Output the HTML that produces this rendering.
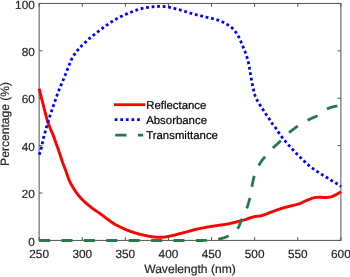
<!DOCTYPE html>
<html><head><meta charset="utf-8"><title>Reflectance, Absorbance, Transmittance</title>
<style>
html,body{margin:0;padding:0;background:#fff;}
body{width:350px;height:277px;overflow:hidden;}
svg{display:block;}
text{font-family:"Liberation Sans", Arial, Helvetica, sans-serif;fill:#262626;stroke:#262626;stroke-width:0.2px;text-rendering:geometricPrecision;}
.tk{font-size:11.8px;}
.lb{font-size:12.1px;}
.lg{font-size:11.4px;fill:#000;stroke:#000;stroke-width:0.2px;}
</style></head><body>
<svg width="350" height="277" viewBox="0 0 350 277">
<rect x="0" y="0" width="350" height="277" fill="#fff"/>
<rect x="39.12" y="3.45" width="301.76" height="236.95000000000002" fill="none" stroke="#525252" stroke-width="1"/>
<path d="M39.12 240.4 v-3.3 M39.12 3.45 v3.3 M82.23 240.4 v-3.3 M82.23 3.45 v3.3 M125.34 240.4 v-3.3 M125.34 3.45 v3.3 M168.45 240.4 v-3.3 M168.45 3.45 v3.3 M211.55 240.4 v-3.3 M211.55 3.45 v3.3 M254.66 240.4 v-3.3 M254.66 3.45 v3.3 M297.77 240.4 v-3.3 M297.77 3.45 v3.3 M340.88 240.4 v-3.3 M340.88 3.45 v3.3 M39.12 240.40 h3.3 M340.88 240.40 h-3.3 M39.12 193.01 h3.3 M340.88 193.01 h-3.3 M39.12 145.62 h3.3 M340.88 145.62 h-3.3 M39.12 98.23 h3.3 M340.88 98.23 h-3.3 M39.12 50.84 h3.3 M340.88 50.84 h-3.3 M39.12 3.45 h3.3 M340.88 3.45 h-3.3" fill="none" stroke="#525252" stroke-width="1"/>
<path d="M39.10 88.60 L39.60 90.62 L40.11 92.63 L40.61 94.63 L41.12 96.62 L41.62 98.59 L42.12 100.55 L42.63 102.50 L43.13 104.43 L43.64 106.36 L44.14 108.29 L44.64 110.26 L45.15 112.25 L45.65 114.22 L46.16 116.15 L46.66 118.02 L47.16 119.80 L47.67 121.47 L48.17 123.01 L48.68 124.43 L49.18 125.76 L49.68 127.03 L50.19 128.25 L50.69 129.46 L51.20 130.66 L51.70 131.81 L52.20 132.92 L52.71 134.06 L53.21 135.28 L53.72 136.62 L54.22 138.02 L54.72 139.46 L55.23 140.91 L55.73 142.33 L56.24 143.72 L56.74 145.11 L57.24 146.50 L57.75 147.91 L58.25 149.35 L58.76 150.83 L59.26 152.35 L59.76 153.88 L60.27 155.40 L60.77 156.92 L61.28 158.43 L61.78 159.95 L62.28 161.44 L62.79 162.89 L63.29 164.27 L63.80 165.58 L64.30 166.86 L64.80 168.15 L65.31 169.48 L65.81 170.88 L66.32 172.37 L66.82 173.88 L67.32 175.35 L67.83 176.71 L68.33 178.02 L68.84 179.30 L69.34 180.52 L69.84 181.66 L70.35 182.71 L70.85 183.69 L71.36 184.62 L71.86 185.50 L72.36 186.36 L72.87 187.19 L73.37 188.02 L73.88 188.83 L74.38 189.61 L74.88 190.38 L75.39 191.12 L75.89 191.85 L76.40 192.56 L76.90 193.26 L77.40 193.94 L77.91 194.61 L78.41 195.26 L78.92 195.88 L79.42 196.48 L79.92 197.06 L80.43 197.62 L80.93 198.17 L81.44 198.71 L81.94 199.23 L82.44 199.74 L82.95 200.25 L83.45 200.74 L83.96 201.22 L84.46 201.69 L84.96 202.15 L85.47 202.61 L85.97 203.06 L86.48 203.50 L86.98 203.94 L87.48 204.38 L87.99 204.81 L88.49 205.23 L89.00 205.65 L89.50 206.06 L90.00 206.46 L90.51 206.86 L91.01 207.26 L91.52 207.64 L92.02 208.02 L92.52 208.39 L93.03 208.75 L93.53 209.11 L94.04 209.47 L94.54 209.82 L95.04 210.17 L95.55 210.52 L96.05 210.88 L96.56 211.23 L97.06 211.58 L97.56 211.92 L98.07 212.27 L98.57 212.61 L99.08 212.95 L99.58 213.30 L100.08 213.64 L100.59 213.99 L101.09 214.35 L101.60 214.72 L102.10 215.09 L102.60 215.47 L103.11 215.85 L103.61 216.24 L104.12 216.63 L104.62 217.02 L105.12 217.41 L105.63 217.80 L106.13 218.18 L106.64 218.56 L107.14 218.93 L107.64 219.30 L108.15 219.67 L108.65 220.03 L109.16 220.40 L109.66 220.77 L110.16 221.13 L110.67 221.50 L111.17 221.85 L111.68 222.20 L112.18 222.55 L112.68 222.88 L113.19 223.21 L113.69 223.53 L114.20 223.84 L114.70 224.14 L115.21 224.43 L115.71 224.71 L116.21 224.99 L116.72 225.26 L117.22 225.53 L117.73 225.80 L118.23 226.05 L118.73 226.31 L119.24 226.56 L119.74 226.81 L120.25 227.05 L120.75 227.29 L121.25 227.53 L121.76 227.77 L122.26 228.00 L122.77 228.24 L123.27 228.47 L123.77 228.69 L124.28 228.92 L124.78 229.14 L125.29 229.36 L125.79 229.57 L126.29 229.78 L126.80 229.99 L127.30 230.19 L127.81 230.39 L128.31 230.59 L128.81 230.78 L129.32 230.97 L129.82 231.15 L130.33 231.34 L130.83 231.52 L131.33 231.69 L131.84 231.87 L132.34 232.04 L132.85 232.21 L133.35 232.37 L133.85 232.53 L134.36 232.69 L134.86 232.85 L135.37 233.00 L135.87 233.15 L136.37 233.30 L136.88 233.44 L137.38 233.59 L137.89 233.73 L138.39 233.87 L138.89 234.01 L139.40 234.14 L139.90 234.27 L140.41 234.40 L140.91 234.53 L141.41 234.65 L141.92 234.77 L142.42 234.89 L142.93 235.01 L143.43 235.12 L143.93 235.23 L144.44 235.34 L144.94 235.45 L145.45 235.55 L145.95 235.66 L146.45 235.76 L146.96 235.86 L147.46 235.95 L147.97 236.05 L148.47 236.14 L148.97 236.23 L149.48 236.31 L149.98 236.40 L150.49 236.48 L150.99 236.56 L151.49 236.65 L152.00 236.73 L152.50 236.81 L153.01 236.89 L153.51 236.96 L154.01 237.01 L154.52 237.06 L155.02 237.10 L155.53 237.13 L156.03 237.16 L156.53 237.19 L157.04 237.22 L157.54 237.24 L158.05 237.26 L158.55 237.28 L159.05 237.29 L159.56 237.30 L160.06 237.30 L160.57 237.29 L161.07 237.28 L161.57 237.26 L162.08 237.23 L162.58 237.20 L163.09 237.16 L163.59 237.12 L164.09 237.08 L164.60 237.04 L165.10 236.99 L165.61 236.93 L166.11 236.87 L166.61 236.78 L167.12 236.69 L167.62 236.60 L168.13 236.49 L168.63 236.39 L169.13 236.28 L169.64 236.17 L170.14 236.07 L170.65 235.96 L171.15 235.85 L171.65 235.74 L172.16 235.62 L172.66 235.50 L173.17 235.38 L173.67 235.26 L174.17 235.13 L174.68 235.01 L175.18 234.88 L175.69 234.75 L176.19 234.61 L176.69 234.47 L177.20 234.33 L177.70 234.19 L178.21 234.04 L178.71 233.90 L179.21 233.76 L179.72 233.63 L180.22 233.49 L180.73 233.36 L181.23 233.23 L181.73 233.10 L182.24 232.98 L182.74 232.85 L183.25 232.73 L183.75 232.60 L184.25 232.47 L184.76 232.35 L185.26 232.22 L185.77 232.08 L186.27 231.95 L186.77 231.82 L187.28 231.69 L187.78 231.55 L188.29 231.42 L188.79 231.28 L189.29 231.14 L189.80 231.01 L190.30 230.87 L190.81 230.73 L191.31 230.59 L191.81 230.45 L192.32 230.31 L192.82 230.16 L193.33 230.02 L193.83 229.88 L194.33 229.75 L194.84 229.62 L195.34 229.49 L195.85 229.37 L196.35 229.25 L196.85 229.14 L197.36 229.02 L197.86 228.91 L198.37 228.80 L198.87 228.70 L199.37 228.59 L199.88 228.49 L200.38 228.38 L200.89 228.28 L201.39 228.18 L201.89 228.08 L202.40 227.99 L202.90 227.89 L203.41 227.80 L203.91 227.70 L204.41 227.61 L204.92 227.52 L205.42 227.42 L205.93 227.33 L206.43 227.23 L206.93 227.14 L207.44 227.04 L207.94 226.95 L208.45 226.86 L208.95 226.77 L209.45 226.69 L209.96 226.61 L210.46 226.53 L210.97 226.45 L211.47 226.38 L211.97 226.31 L212.48 226.25 L212.98 226.18 L213.49 226.11 L213.99 226.04 L214.49 225.97 L215.00 225.90 L215.50 225.83 L216.01 225.75 L216.51 225.67 L217.01 225.59 L217.52 225.51 L218.02 225.43 L218.53 225.35 L219.03 225.28 L219.53 225.20 L220.04 225.12 L220.54 225.05 L221.05 224.98 L221.55 224.91 L222.05 224.85 L222.56 224.78 L223.06 224.71 L223.57 224.64 L224.07 224.57 L224.57 224.50 L225.08 224.42 L225.58 224.34 L226.09 224.25 L226.59 224.16 L227.09 224.06 L227.60 223.96 L228.10 223.86 L228.61 223.76 L229.11 223.65 L229.61 223.55 L230.12 223.44 L230.62 223.33 L231.13 223.22 L231.63 223.10 L232.13 222.98 L232.64 222.86 L233.14 222.74 L233.65 222.61 L234.15 222.49 L234.65 222.36 L235.16 222.24 L235.66 222.11 L236.17 221.98 L236.67 221.86 L237.17 221.73 L237.68 221.60 L238.18 221.47 L238.69 221.34 L239.19 221.21 L239.69 221.08 L240.20 220.95 L240.70 220.82 L241.21 220.70 L241.71 220.57 L242.21 220.45 L242.72 220.32 L243.22 220.19 L243.73 220.06 L244.23 219.92 L244.73 219.78 L245.24 219.63 L245.74 219.46 L246.25 219.29 L246.75 219.11 L247.25 218.92 L247.76 218.73 L248.26 218.54 L248.77 218.35 L249.27 218.17 L249.77 218.00 L250.28 217.84 L250.78 217.69 L251.29 217.53 L251.79 217.37 L252.29 217.22 L252.80 217.07 L253.30 216.92 L253.81 216.79 L254.31 216.67 L254.81 216.57 L255.32 216.48 L255.82 216.41 L256.33 216.34 L256.83 216.29 L257.33 216.24 L257.84 216.19 L258.34 216.14 L258.85 216.09 L259.35 216.03 L259.85 215.96 L260.36 215.87 L260.86 215.77 L261.37 215.65 L261.87 215.52 L262.37 215.37 L262.88 215.22 L263.38 215.05 L263.89 214.88 L264.39 214.71 L264.89 214.54 L265.40 214.37 L265.90 214.19 L266.41 213.99 L266.91 213.79 L267.42 213.59 L267.92 213.38 L268.42 213.16 L268.93 212.95 L269.43 212.74 L269.94 212.54 L270.44 212.35 L270.94 212.16 L271.45 211.97 L271.95 211.79 L272.46 211.61 L272.96 211.43 L273.46 211.25 L273.97 211.07 L274.47 210.89 L274.98 210.71 L275.48 210.53 L275.98 210.34 L276.49 210.15 L276.99 209.97 L277.50 209.78 L278.00 209.59 L278.50 209.41 L279.01 209.23 L279.51 209.06 L280.02 208.90 L280.52 208.73 L281.02 208.58 L281.53 208.42 L282.03 208.27 L282.54 208.12 L283.04 207.98 L283.54 207.83 L284.05 207.69 L284.55 207.55 L285.06 207.41 L285.56 207.28 L286.06 207.14 L286.57 207.01 L287.07 206.88 L287.58 206.75 L288.08 206.63 L288.58 206.50 L289.09 206.37 L289.59 206.25 L290.10 206.13 L290.60 206.00 L291.10 205.88 L291.61 205.76 L292.11 205.65 L292.62 205.53 L293.12 205.41 L293.62 205.29 L294.13 205.17 L294.63 205.05 L295.14 204.92 L295.64 204.78 L296.14 204.65 L296.65 204.52 L297.15 204.38 L297.66 204.24 L298.16 204.10 L298.66 203.95 L299.17 203.79 L299.67 203.62 L300.18 203.45 L300.68 203.25 L301.18 203.03 L301.69 202.80 L302.19 202.54 L302.70 202.28 L303.20 202.01 L303.70 201.75 L304.21 201.49 L304.71 201.24 L305.22 201.01 L305.72 200.79 L306.22 200.58 L306.73 200.38 L307.23 200.19 L307.74 199.99 L308.24 199.80 L308.74 199.62 L309.25 199.43 L309.75 199.24 L310.26 199.04 L310.76 198.83 L311.26 198.62 L311.77 198.42 L312.27 198.23 L312.78 198.06 L313.28 197.93 L313.78 197.79 L314.29 197.67 L314.79 197.56 L315.30 197.47 L315.80 197.41 L316.30 197.39 L316.81 197.37 L317.31 197.35 L317.82 197.33 L318.32 197.32 L318.82 197.31 L319.33 197.30 L319.83 197.30 L320.34 197.30 L320.84 197.31 L321.34 197.33 L321.85 197.35 L322.35 197.38 L322.86 197.41 L323.36 197.44 L323.86 197.47 L324.37 197.49 L324.87 197.50 L325.38 197.50 L325.88 197.49 L326.38 197.46 L326.89 197.43 L327.39 197.38 L327.90 197.33 L328.40 197.27 L328.90 197.20 L329.41 197.12 L329.91 197.05 L330.42 196.96 L330.92 196.85 L331.42 196.70 L331.93 196.53 L332.43 196.33 L332.94 196.12 L333.44 195.89 L333.94 195.65 L334.45 195.41 L334.95 195.17 L335.46 194.93 L335.96 194.68 L336.46 194.42 L336.97 194.15 L337.47 193.86 L337.98 193.57 L338.48 193.27 L338.98 192.95 L339.49 192.63 L339.99 192.29 L340.50 191.95 L341.00 191.60" fill="none" stroke="#ff0000" stroke-width="2.9" stroke-linejoin="round"/>
<path d="M39.20 154.80 L39.70 153.39 L40.21 151.80 L40.71 150.05 L41.22 148.16 L41.72 145.99 L42.22 143.68 L42.73 141.45 L43.23 139.23 L43.73 137.07 L44.24 135.09 L44.74 133.29 L45.25 131.54 L45.75 129.76 L46.25 127.98 L46.76 126.21 L47.26 124.47 L47.77 122.77 L48.27 121.13 L48.77 119.53 L49.28 117.95 L49.78 116.40 L50.28 114.87 L50.79 113.37 L51.29 111.87 L51.80 110.39 L52.30 108.92 L52.80 107.46 L53.31 106.00 L53.81 104.55 L54.32 103.09 L54.82 101.63 L55.32 100.17 L55.83 98.72 L56.33 97.28 L56.83 95.86 L57.34 94.45 L57.84 93.07 L58.35 91.71 L58.85 90.39 L59.35 89.10 L59.86 87.85 L60.36 86.64 L60.87 85.44 L61.37 84.27 L61.87 83.09 L62.38 81.92 L62.88 80.73 L63.38 79.53 L63.89 78.29 L64.39 77.04 L64.90 75.77 L65.40 74.51 L65.90 73.24 L66.41 71.98 L66.91 70.72 L67.42 69.46 L67.92 68.20 L68.42 66.94 L68.93 65.66 L69.43 64.39 L69.93 63.16 L70.44 61.94 L70.94 60.72 L71.45 59.55 L71.95 58.50 L72.45 57.56 L72.96 56.69 L73.46 55.87 L73.96 55.09 L74.47 54.35 L74.97 53.64 L75.48 52.95 L75.98 52.29 L76.48 51.66 L76.99 51.05 L77.49 50.46 L78.00 49.87 L78.50 49.28 L79.00 48.70 L79.51 48.12 L80.01 47.55 L80.51 46.98 L81.02 46.43 L81.52 45.90 L82.03 45.38 L82.53 44.87 L83.03 44.39 L83.54 43.93 L84.04 43.48 L84.55 43.04 L85.05 42.60 L85.55 42.16 L86.06 41.71 L86.56 41.25 L87.06 40.77 L87.57 40.28 L88.07 39.78 L88.58 39.29 L89.08 38.80 L89.58 38.32 L90.09 37.85 L90.59 37.41 L91.10 36.99 L91.60 36.58 L92.10 36.19 L92.61 35.81 L93.11 35.43 L93.61 35.05 L94.12 34.68 L94.62 34.29 L95.13 33.90 L95.63 33.50 L96.13 33.10 L96.64 32.70 L97.14 32.29 L97.65 31.89 L98.15 31.48 L98.65 31.08 L99.16 30.69 L99.66 30.30 L100.16 29.91 L100.67 29.53 L101.17 29.14 L101.68 28.77 L102.18 28.39 L102.68 28.02 L103.19 27.64 L103.69 27.28 L104.20 26.92 L104.70 26.56 L105.20 26.20 L105.71 25.85 L106.21 25.50 L106.71 25.16 L107.22 24.81 L107.72 24.47 L108.23 24.12 L108.73 23.77 L109.23 23.42 L109.74 23.07 L110.24 22.71 L110.75 22.36 L111.25 22.01 L111.75 21.67 L112.26 21.33 L112.76 21.00 L113.26 20.68 L113.77 20.37 L114.27 20.07 L114.78 19.77 L115.28 19.48 L115.78 19.20 L116.29 18.92 L116.79 18.64 L117.30 18.37 L117.80 18.10 L118.30 17.84 L118.81 17.59 L119.31 17.34 L119.81 17.09 L120.32 16.85 L120.82 16.61 L121.33 16.37 L121.83 16.14 L122.33 15.91 L122.84 15.67 L123.34 15.44 L123.85 15.21 L124.35 14.99 L124.85 14.76 L125.36 14.54 L125.86 14.32 L126.36 14.10 L126.87 13.88 L127.37 13.66 L127.88 13.45 L128.38 13.24 L128.88 13.03 L129.39 12.83 L129.89 12.62 L130.39 12.42 L130.90 12.22 L131.40 12.02 L131.91 11.82 L132.41 11.62 L132.91 11.43 L133.42 11.24 L133.92 11.05 L134.43 10.86 L134.93 10.67 L135.43 10.48 L135.94 10.30 L136.44 10.11 L136.94 9.94 L137.45 9.77 L137.95 9.60 L138.46 9.44 L138.96 9.29 L139.46 9.14 L139.97 9.00 L140.47 8.85 L140.98 8.71 L141.48 8.58 L141.98 8.45 L142.49 8.32 L142.99 8.21 L143.49 8.10 L144.00 8.00 L144.50 7.91 L145.01 7.82 L145.51 7.74 L146.01 7.66 L146.52 7.58 L147.02 7.51 L147.53 7.44 L148.03 7.37 L148.53 7.31 L149.04 7.25 L149.54 7.18 L150.04 7.12 L150.55 7.05 L151.05 6.99 L151.56 6.93 L152.06 6.87 L152.56 6.81 L153.07 6.75 L153.57 6.70 L154.08 6.66 L154.58 6.62 L155.08 6.60 L155.59 6.57 L156.09 6.55 L156.59 6.52 L157.10 6.50 L157.60 6.48 L158.11 6.46 L158.61 6.44 L159.11 6.43 L159.62 6.41 L160.12 6.41 L160.63 6.40 L161.13 6.40 L161.63 6.41 L162.14 6.42 L162.64 6.44 L163.14 6.47 L163.65 6.50 L164.15 6.53 L164.66 6.57 L165.16 6.62 L165.66 6.67 L166.17 6.71 L166.67 6.77 L167.18 6.82 L167.68 6.89 L168.18 6.98 L168.69 7.08 L169.19 7.20 L169.69 7.32 L170.20 7.45 L170.70 7.58 L171.21 7.71 L171.71 7.83 L172.21 7.95 L172.72 8.07 L173.22 8.18 L173.73 8.30 L174.23 8.42 L174.73 8.54 L175.24 8.66 L175.74 8.78 L176.24 8.91 L176.75 9.03 L177.25 9.16 L177.76 9.29 L178.26 9.43 L178.76 9.57 L179.27 9.71 L179.77 9.85 L180.28 9.99 L180.78 10.14 L181.28 10.29 L181.79 10.44 L182.29 10.59 L182.79 10.74 L183.30 10.89 L183.80 11.05 L184.31 11.21 L184.81 11.37 L185.31 11.54 L185.82 11.70 L186.32 11.87 L186.83 12.03 L187.33 12.19 L187.83 12.35 L188.34 12.50 L188.84 12.66 L189.34 12.81 L189.85 12.97 L190.35 13.12 L190.86 13.27 L191.36 13.42 L191.86 13.57 L192.37 13.71 L192.87 13.85 L193.37 13.99 L193.88 14.13 L194.38 14.26 L194.89 14.39 L195.39 14.52 L195.89 14.64 L196.40 14.77 L196.90 14.89 L197.41 15.01 L197.91 15.13 L198.41 15.26 L198.92 15.38 L199.42 15.50 L199.92 15.63 L200.43 15.75 L200.93 15.87 L201.44 15.99 L201.94 16.11 L202.44 16.23 L202.95 16.36 L203.45 16.48 L203.96 16.59 L204.46 16.71 L204.96 16.83 L205.47 16.95 L205.97 17.07 L206.47 17.18 L206.98 17.30 L207.48 17.42 L207.99 17.53 L208.49 17.65 L208.99 17.76 L209.50 17.88 L210.00 18.00 L210.51 18.12 L211.01 18.23 L211.51 18.35 L212.02 18.46 L212.52 18.58 L213.02 18.70 L213.53 18.82 L214.03 18.95 L214.54 19.08 L215.04 19.21 L215.54 19.35 L216.05 19.49 L216.55 19.64 L217.06 19.79 L217.56 19.95 L218.06 20.11 L218.57 20.28 L219.07 20.46 L219.57 20.64 L220.08 20.83 L220.58 21.03 L221.09 21.24 L221.59 21.47 L222.09 21.70 L222.60 21.94 L223.10 22.19 L223.61 22.44 L224.11 22.70 L224.61 22.97 L225.12 23.24 L225.62 23.52 L226.12 23.80 L226.63 24.09 L227.13 24.39 L227.64 24.70 L228.14 25.01 L228.64 25.34 L229.15 25.69 L229.65 26.04 L230.16 26.41 L230.66 26.80 L231.16 27.21 L231.67 27.64 L232.17 28.09 L232.67 28.57 L233.18 29.07 L233.68 29.60 L234.19 30.16 L234.69 30.74 L235.19 31.38 L235.70 32.07 L236.20 32.80 L236.71 33.56 L237.21 34.36 L237.71 35.19 L238.22 36.07 L238.72 37.00 L239.22 37.99 L239.73 39.02 L240.23 40.11 L240.74 41.29 L241.24 42.54 L241.74 43.78 L242.25 44.98 L242.75 46.14 L243.26 47.28 L243.76 48.45 L244.26 49.66 L244.77 50.92 L245.27 52.22 L245.77 53.58 L246.28 55.03 L246.78 56.61 L247.29 58.32 L247.79 60.18 L248.29 62.18 L248.80 64.38 L249.30 66.98 L249.81 70.36 L250.31 73.34 L250.81 75.99 L251.32 78.80 L251.82 81.66 L252.32 84.14 L252.83 86.35 L253.33 88.62 L253.84 91.16 L254.34 93.39 L254.84 94.96 L255.35 96.27 L255.85 97.42 L256.35 98.50 L256.86 99.56 L257.36 100.55 L257.87 101.49 L258.37 102.39 L258.87 103.25 L259.38 104.09 L259.88 104.89 L260.39 105.64 L260.89 106.38 L261.39 107.10 L261.90 107.84 L262.40 108.60 L262.90 109.40 L263.41 110.21 L263.91 111.03 L264.42 111.85 L264.92 112.66 L265.42 113.44 L265.93 114.18 L266.43 114.91 L266.94 115.62 L267.44 116.33 L267.94 117.04 L268.45 117.77 L268.95 118.53 L269.45 119.31 L269.96 120.11 L270.46 120.90 L270.97 121.67 L271.47 122.42 L271.97 123.11 L272.48 123.77 L272.98 124.41 L273.49 125.03 L273.99 125.66 L274.49 126.31 L275.00 127.00 L275.50 127.73 L276.00 128.50 L276.51 129.29 L277.01 130.09 L277.52 130.87 L278.02 131.63 L278.52 132.37 L279.03 133.10 L279.53 133.82 L280.04 134.54 L280.54 135.24 L281.04 135.92 L281.55 136.59 L282.05 137.25 L282.55 137.89 L283.06 138.52 L283.56 139.14 L284.07 139.75 L284.57 140.36 L285.07 140.97 L285.58 141.56 L286.08 142.16 L286.59 142.74 L287.09 143.32 L287.59 143.90 L288.10 144.47 L288.60 145.04 L289.10 145.61 L289.61 146.17 L290.11 146.72 L290.62 147.28 L291.12 147.83 L291.62 148.38 L292.13 148.92 L292.63 149.46 L293.14 150.00 L293.64 150.54 L294.14 151.07 L294.65 151.60 L295.15 152.12 L295.65 152.64 L296.16 153.16 L296.66 153.67 L297.17 154.18 L297.67 154.68 L298.17 155.19 L298.68 155.69 L299.18 156.18 L299.69 156.69 L300.19 157.19 L300.69 157.70 L301.20 158.21 L301.70 158.72 L302.20 159.23 L302.71 159.74 L303.21 160.24 L303.72 160.73 L304.22 161.21 L304.72 161.69 L305.23 162.16 L305.73 162.63 L306.24 163.09 L306.74 163.55 L307.24 164.00 L307.75 164.44 L308.25 164.87 L308.75 165.30 L309.26 165.71 L309.76 166.12 L310.27 166.52 L310.77 166.92 L311.27 167.31 L311.78 167.69 L312.28 168.07 L312.78 168.44 L313.29 168.81 L313.79 169.17 L314.30 169.52 L314.80 169.86 L315.30 170.20 L315.81 170.54 L316.31 170.88 L316.82 171.21 L317.32 171.55 L317.82 171.88 L318.33 172.22 L318.83 172.55 L319.33 172.88 L319.84 173.21 L320.34 173.54 L320.85 173.87 L321.35 174.19 L321.85 174.51 L322.36 174.82 L322.86 175.13 L323.37 175.43 L323.87 175.73 L324.37 176.03 L324.88 176.32 L325.38 176.62 L325.88 176.92 L326.39 177.22 L326.89 177.53 L327.40 177.85 L327.90 178.18 L328.40 178.51 L328.91 178.84 L329.41 179.18 L329.92 179.52 L330.42 179.85 L330.92 180.17 L331.43 180.49 L331.93 180.80 L332.43 181.10 L332.94 181.39 L333.44 181.68 L333.95 181.96 L334.45 182.24 L334.95 182.53 L335.46 182.82 L335.96 183.13 L336.47 183.44 L336.97 183.77 L337.47 184.10 L337.98 184.44 L338.48 184.78 L338.98 185.13 L339.49 185.49 L339.99 185.85 L340.50 186.22 L341.00 186.60" fill="none" stroke="#0000ff" stroke-width="2.8" stroke-dasharray="2.8 2.74"/>
<path d="M39.10 240.50 L39.60 240.50 L40.11 240.50 L40.61 240.50 L41.12 240.50 L41.62 240.50 L42.12 240.50 L42.63 240.50 L43.13 240.50 L43.64 240.50 L44.14 240.50 L44.64 240.50 L45.15 240.50 L45.65 240.50 L46.16 240.50 L46.66 240.50 L47.16 240.50 L47.67 240.50 L48.17 240.50 L48.68 240.50 L49.18 240.50 L49.68 240.50 L50.19 240.50 L50.69 240.50 L51.20 240.50 L51.70 240.50 L52.20 240.50 L52.71 240.50 L53.21 240.50 L53.72 240.50 L54.22 240.50 L54.72 240.50 L55.23 240.50 L55.73 240.50 L56.24 240.50 L56.74 240.50 L57.24 240.50 L57.75 240.50 L58.25 240.50 L58.76 240.50 L59.26 240.50 L59.76 240.50 L60.27 240.50 L60.77 240.50 L61.28 240.50 L61.78 240.50 L62.28 240.50 L62.79 240.50 L63.29 240.50 L63.80 240.50 L64.30 240.50 L64.80 240.50 L65.31 240.50 L65.81 240.50 L66.32 240.50 L66.82 240.50 L67.32 240.50 L67.83 240.50 L68.33 240.50 L68.84 240.50 L69.34 240.50 L69.84 240.50 L70.35 240.50 L70.85 240.50 L71.36 240.50 L71.86 240.50 L72.36 240.50 L72.87 240.50 L73.37 240.50 L73.88 240.50 L74.38 240.50 L74.88 240.50 L75.39 240.50 L75.89 240.50 L76.40 240.50 L76.90 240.50 L77.40 240.50 L77.91 240.50 L78.41 240.50 L78.92 240.50 L79.42 240.50 L79.92 240.50 L80.43 240.50 L80.93 240.50 L81.44 240.50 L81.94 240.50 L82.44 240.50 L82.95 240.50 L83.45 240.50 L83.96 240.50 L84.46 240.50 L84.96 240.50 L85.47 240.50 L85.97 240.50 L86.48 240.50 L86.98 240.50 L87.48 240.50 L87.99 240.50 L88.49 240.50 L89.00 240.50 L89.50 240.50 L90.00 240.50 L90.51 240.50 L91.01 240.50 L91.52 240.50 L92.02 240.50 L92.52 240.50 L93.03 240.50 L93.53 240.50 L94.04 240.50 L94.54 240.50 L95.04 240.50 L95.55 240.50 L96.05 240.50 L96.56 240.50 L97.06 240.50 L97.56 240.50 L98.07 240.50 L98.57 240.50 L99.08 240.50 L99.58 240.50 L100.08 240.50 L100.59 240.50 L101.09 240.50 L101.60 240.50 L102.10 240.50 L102.60 240.50 L103.11 240.50 L103.61 240.50 L104.12 240.50 L104.62 240.50 L105.12 240.50 L105.63 240.50 L106.13 240.50 L106.64 240.50 L107.14 240.50 L107.64 240.50 L108.15 240.50 L108.65 240.50 L109.16 240.50 L109.66 240.50 L110.16 240.50 L110.67 240.50 L111.17 240.50 L111.68 240.50 L112.18 240.50 L112.68 240.50 L113.19 240.50 L113.69 240.50 L114.20 240.50 L114.70 240.50 L115.21 240.50 L115.71 240.50 L116.21 240.50 L116.72 240.50 L117.22 240.50 L117.73 240.50 L118.23 240.50 L118.73 240.50 L119.24 240.50 L119.74 240.50 L120.25 240.50 L120.75 240.50 L121.25 240.50 L121.76 240.50 L122.26 240.50 L122.77 240.50 L123.27 240.50 L123.77 240.50 L124.28 240.50 L124.78 240.50 L125.29 240.50 L125.79 240.50 L126.29 240.50 L126.80 240.50 L127.30 240.50 L127.81 240.50 L128.31 240.50 L128.81 240.50 L129.32 240.50 L129.82 240.50 L130.33 240.50 L130.83 240.50 L131.33 240.50 L131.84 240.50 L132.34 240.50 L132.85 240.50 L133.35 240.50 L133.85 240.50 L134.36 240.50 L134.86 240.50 L135.37 240.50 L135.87 240.50 L136.37 240.50 L136.88 240.50 L137.38 240.50 L137.89 240.50 L138.39 240.50 L138.89 240.50 L139.40 240.50 L139.90 240.50 L140.41 240.50 L140.91 240.50 L141.41 240.50 L141.92 240.50 L142.42 240.50 L142.93 240.50 L143.43 240.50 L143.93 240.50 L144.44 240.50 L144.94 240.50 L145.45 240.50 L145.95 240.50 L146.45 240.50 L146.96 240.50 L147.46 240.50 L147.97 240.50 L148.47 240.50 L148.97 240.50 L149.48 240.50 L149.98 240.50 L150.49 240.50 L150.99 240.50 L151.49 240.50 L152.00 240.50 L152.50 240.50 L153.01 240.50 L153.51 240.50 L154.01 240.50 L154.52 240.50 L155.02 240.50 L155.53 240.50 L156.03 240.50 L156.53 240.50 L157.04 240.50 L157.54 240.50 L158.05 240.50 L158.55 240.50 L159.05 240.50 L159.56 240.50 L160.06 240.50 L160.57 240.50 L161.07 240.50 L161.57 240.50 L162.08 240.50 L162.58 240.50 L163.09 240.50 L163.59 240.50 L164.09 240.50 L164.60 240.50 L165.10 240.50 L165.61 240.50 L166.11 240.50 L166.61 240.50 L167.12 240.50 L167.62 240.50 L168.13 240.50 L168.63 240.50 L169.13 240.50 L169.64 240.50 L170.14 240.50 L170.65 240.50 L171.15 240.50 L171.65 240.50 L172.16 240.50 L172.66 240.50 L173.17 240.50 L173.67 240.50 L174.17 240.50 L174.68 240.50 L175.18 240.50 L175.69 240.50 L176.19 240.50 L176.69 240.50 L177.20 240.50 L177.70 240.50 L178.21 240.50 L178.71 240.50 L179.21 240.50 L179.72 240.50 L180.22 240.50 L180.73 240.50 L181.23 240.50 L181.73 240.50 L182.24 240.50 L182.74 240.50 L183.25 240.50 L183.75 240.50 L184.25 240.50 L184.76 240.50 L185.26 240.50 L185.77 240.50 L186.27 240.50 L186.77 240.50 L187.28 240.50 L187.78 240.50 L188.29 240.50 L188.79 240.50 L189.29 240.50 L189.80 240.50 L190.30 240.50 L190.81 240.50 L191.31 240.50 L191.81 240.50 L192.32 240.50 L192.82 240.50 L193.33 240.50 L193.83 240.50 L194.33 240.50 L194.84 240.50 L195.34 240.50 L195.85 240.50 L196.35 240.50 L196.85 240.50 L197.36 240.50 L197.86 240.50 L198.37 240.50 L198.87 240.50 L199.37 240.50 L199.88 240.50 L200.38 240.50 L200.89 240.50 L201.39 240.50 L201.89 240.49 L202.40 240.49 L202.90 240.48 L203.41 240.47 L203.91 240.47 L204.41 240.46 L204.92 240.45 L205.42 240.44 L205.93 240.42 L206.43 240.41 L206.93 240.40 L207.44 240.38 L207.94 240.37 L208.45 240.35 L208.95 240.34 L209.45 240.32 L209.96 240.30 L210.46 240.28 L210.97 240.25 L211.47 240.21 L211.97 240.16 L212.48 240.10 L212.98 240.04 L213.49 239.97 L213.99 239.89 L214.49 239.81 L215.00 239.73 L215.50 239.64 L216.01 239.55 L216.51 239.46 L217.01 239.37 L217.52 239.29 L218.02 239.20 L218.53 239.11 L219.03 239.01 L219.53 238.91 L220.04 238.81 L220.54 238.70 L221.05 238.59 L221.55 238.47 L222.05 238.34 L222.56 238.21 L223.06 238.08 L223.57 237.93 L224.07 237.78 L224.57 237.61 L225.08 237.43 L225.58 237.23 L226.09 237.02 L226.59 236.79 L227.09 236.56 L227.60 236.31 L228.10 236.06 L228.61 235.80 L229.11 235.54 L229.61 235.27 L230.12 235.00 L230.62 234.71 L231.13 234.41 L231.63 234.10 L232.13 233.78 L232.64 233.43 L233.14 233.07 L233.65 232.68 L234.15 232.28 L234.65 231.84 L235.16 231.38 L235.66 230.88 L236.17 230.35 L236.67 229.77 L237.17 229.14 L237.68 228.46 L238.18 227.72 L238.69 226.82 L239.19 225.78 L239.69 224.63 L240.20 223.41 L240.70 222.16 L241.21 220.90 L241.71 219.67 L242.21 218.51 L242.72 217.35 L243.22 216.18 L243.73 215.01 L244.23 213.85 L244.73 212.70 L245.24 211.61 L245.74 210.54 L246.25 209.45 L246.75 208.25 L247.25 206.90 L247.76 205.46 L248.26 203.90 L248.77 202.20 L249.27 200.36 L249.77 198.36 L250.28 196.07 L250.78 193.19 L251.29 190.07 L251.79 187.09 L252.29 184.54 L252.80 182.10 L253.30 179.79 L253.81 177.69 L254.31 175.88 L254.81 174.35 L255.32 172.93 L255.82 171.60 L256.33 170.37 L256.83 169.22 L257.33 168.15 L257.84 167.13 L258.34 166.18 L258.85 165.27 L259.35 164.40 L259.85 163.58 L260.36 162.79 L260.86 162.04 L261.37 161.32 L261.87 160.63 L262.37 159.96 L262.88 159.32 L263.38 158.69 L263.89 158.07 L264.39 157.46 L264.89 156.85 L265.40 156.24 L265.90 155.64 L266.41 155.04 L266.91 154.45 L267.42 153.88 L267.92 153.31 L268.42 152.75 L268.93 152.21 L269.43 151.67 L269.94 151.13 L270.44 150.60 L270.94 150.08 L271.45 149.57 L271.95 149.05 L272.46 148.55 L272.96 148.04 L273.46 147.54 L273.97 147.05 L274.47 146.57 L274.98 146.10 L275.48 145.63 L275.98 145.17 L276.49 144.71 L276.99 144.26 L277.50 143.81 L278.00 143.35 L278.50 142.90 L279.01 142.44 L279.51 141.99 L280.02 141.52 L280.52 141.05 L281.02 140.58 L281.53 140.09 L282.03 139.60 L282.54 139.10 L283.04 138.59 L283.54 138.08 L284.05 137.57 L284.55 137.05 L285.06 136.54 L285.56 136.03 L286.06 135.52 L286.57 135.02 L287.07 134.53 L287.58 134.05 L288.08 133.57 L288.58 133.11 L289.09 132.67 L289.59 132.24 L290.10 131.82 L290.60 131.40 L291.10 130.99 L291.61 130.59 L292.11 130.19 L292.62 129.80 L293.12 129.41 L293.62 129.03 L294.13 128.65 L294.63 128.28 L295.14 127.92 L295.64 127.56 L296.14 127.20 L296.65 126.85 L297.15 126.50 L297.66 126.16 L298.16 125.83 L298.66 125.49 L299.17 125.17 L299.67 124.84 L300.18 124.52 L300.68 124.20 L301.18 123.88 L301.69 123.57 L302.19 123.27 L302.70 122.96 L303.20 122.66 L303.70 122.37 L304.21 122.08 L304.71 121.79 L305.22 121.50 L305.72 121.22 L306.22 120.94 L306.73 120.67 L307.23 120.40 L307.74 120.14 L308.24 119.88 L308.74 119.63 L309.25 119.38 L309.75 119.15 L310.26 118.92 L310.76 118.70 L311.26 118.48 L311.77 118.27 L312.27 118.06 L312.78 117.84 L313.28 117.63 L313.78 117.42 L314.29 117.20 L314.79 116.98 L315.30 116.75 L315.80 116.52 L316.30 116.28 L316.81 116.03 L317.31 115.77 L317.82 115.50 L318.32 115.22 L318.82 114.91 L319.33 114.57 L319.83 114.22 L320.34 113.85 L320.84 113.46 L321.34 113.07 L321.85 112.67 L322.35 112.27 L322.86 111.86 L323.36 111.46 L323.86 111.07 L324.37 110.69 L324.87 110.32 L325.38 109.97 L325.88 109.64 L326.38 109.33 L326.89 109.05 L327.39 108.80 L327.90 108.57 L328.40 108.35 L328.90 108.14 L329.41 107.93 L329.91 107.74 L330.42 107.55 L330.92 107.38 L331.42 107.22 L331.93 107.07 L332.43 106.93 L332.94 106.81 L333.44 106.70 L333.94 106.59 L334.45 106.48 L334.95 106.37 L335.46 106.27 L335.96 106.18 L336.46 106.11 L336.97 106.05 L337.47 106.01 L337.98 106.00 L338.48 106.00 L338.98 106.00 L339.49 106.00 L339.99 106.00 L340.50 106.00 L341.00 106.00" fill="none" stroke="#26794a" stroke-width="2.8" stroke-dasharray="11.0 11.4"/>
<text class="tk" x="39.12" y="257.6" text-anchor="middle">250</text>
<text class="tk" x="82.23" y="257.6" text-anchor="middle">300</text>
<text class="tk" x="125.34" y="257.6" text-anchor="middle">350</text>
<text class="tk" x="168.45" y="257.6" text-anchor="middle">400</text>
<text class="tk" x="211.55" y="257.6" text-anchor="middle">450</text>
<text class="tk" x="254.66" y="257.6" text-anchor="middle">500</text>
<text class="tk" x="297.77" y="257.6" text-anchor="middle">550</text>
<text class="tk" x="340.88" y="257.6" text-anchor="middle">600</text>
<text class="tk" x="34.8" y="245.60" text-anchor="end">0</text>
<text class="tk" x="34.8" y="198.21" text-anchor="end">20</text>
<text class="tk" x="34.8" y="150.82" text-anchor="end">40</text>
<text class="tk" x="34.8" y="103.43" text-anchor="end">60</text>
<text class="tk" x="34.8" y="56.04" text-anchor="end">80</text>
<text class="tk" x="34.8" y="8.65" text-anchor="end">100</text>
<text class="lb" x="190" y="272.9" text-anchor="middle">Wavelength (nm)</text>
<text class="lb" transform="translate(9.2,123.9) rotate(-90)" text-anchor="middle">Percentage (%)</text>
<path d="M114 104.7 H145.2" stroke="#ff0000" stroke-width="2.8" fill="none"/>
<path d="M114.7 119.7 H141" stroke="#0000ff" stroke-width="2.8" stroke-dasharray="2.7 2.9" fill="none"/>
<path d="M115.2 135.2 H126.5 M138 135.2 H143.2" stroke="#26794a" stroke-width="2.7" fill="none"/>
<text class="lg" x="146.2" y="108.6">Reflectance</text>
<text class="lg" x="146.2" y="123.9">Absorbance</text>
<text class="lg" x="146.2" y="139.2">Transmittance</text>
</svg></body></html>
